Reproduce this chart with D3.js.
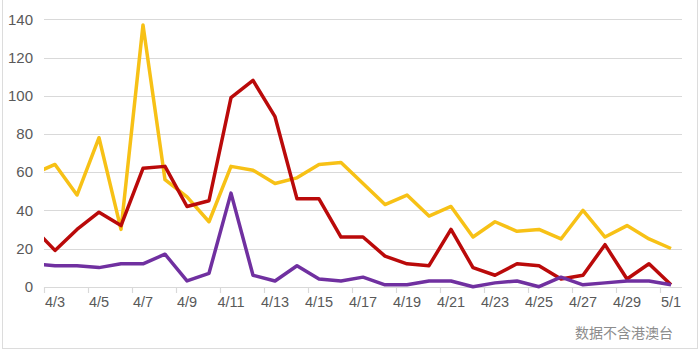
<!DOCTYPE html>
<html>
<head>
<meta charset="utf-8">
<script src="https://cdn.jsdelivr.net/npm/d3@7"></script>
<style>
  html, body { margin: 0; padding: 0; background: #fff; }
  svg { display: block; }
</style>
</head>
<body>
<svg id="chart" width="700" height="350"></svg>
<script>
// Daily counts, 4/2 through 5/1
const dates = ["4/2","4/3","4/4","4/5","4/6","4/7","4/8","4/9","4/10","4/11","4/12","4/13","4/14","4/15","4/16",
               "4/17","4/18","4/19","4/20","4/21","4/22","4/23","4/24","4/25","4/26","4/27","4/28","4/29","4/30","5/1"];
const redSeries = [31,19,30,39,32,62,63,42,45,99,108,89,46,46,26,26,16,12,11,30,10,6,12,11,4,6,22,4,12,1];
const yellowSeries = [59,64,48,78,30,137,56,47,34,63,61,54,57,64,65,54,43,48,37,42,26,34,29,30,25,40,26,32,25,20];
const purpleSeries = [12,11,11,10,12,12,17,3,7,49,6,3,11,4,3,5,1,1,3,3,0,2,3,0,5,1,2,3,3,1];
const yTicks = [0,20,40,60,80,100,120,140];
const xLabels = ["4/3","4/5","4/7","4/9","4/11","4/13","4/15","4/17","4/19","4/21","4/23","4/25","4/27","4/29","5/1"];
const note = "数据不含港澳台";

const svg = d3.select("#chart");
const W = 700, H = 350;
const plot = { left: 44, right: 682, top: 18, bottom: 286.7 };

// outer frame
svg.append("rect")
  .attr("x", 2.5).attr("y", -2).attr("width", 695).attr("height", 350.5)
  .attr("fill", "none").attr("stroke", "#dcdcdc").attr("stroke-width", 1);

// each day occupies one band; the window shows half of 4/2 through the end of 5/1
const x = d3.scaleLinear()
  .domain([0.5, dates.length - 0.5])
  .range([plot.left, plot.right]);
const y = d3.scaleLinear()
  .domain([0, 140])
  .range([plot.bottom, plot.top + 1.3]);

// gridlines
svg.append("g")
  .selectAll("line")
  .data(yTicks)
  .join("line")
  .attr("x1", plot.left).attr("x2", plot.right)
  .attr("y1", d => Math.round(y(d)) + 0.5).attr("y2", d => Math.round(y(d)) + 0.5)
  .attr("stroke", "#d9d9d9").attr("stroke-width", 1.2);

// y axis labels
const yAxis = d3.axisLeft(y).tickValues(yTicks).tickSize(0).tickPadding(0);
const gy = svg.append("g").attr("transform", "translate(33,0)").call(yAxis);
gy.select(".domain").remove();
gy.selectAll("text")
  .attr("fill", "#595959")
  .attr("font-family", "'Liberation Sans', Arial, sans-serif")
  .attr("font-size", 15);

// x axis: tick marks at the left edge of every labelled day, label centred on the day
const labelIdx = xLabels.map(l => dates.indexOf(l));
const gx = svg.append("g");
gx.selectAll("line.tick")
  .data(labelIdx)
  .join("line")
  .attr("class", "tick")
  .attr("x1", d => Math.round(x(d - 0.5)) + 0.5).attr("x2", d => Math.round(x(d - 0.5)) + 0.5)
  .attr("y1", Math.round(plot.bottom)).attr("y2", Math.round(plot.bottom) + 6)
  .attr("stroke", "#d9d9d9").attr("stroke-width", 1.2);
gx.selectAll("text")
  .data(xLabels)
  .join("text")
  .attr("x", d => x(dates.indexOf(d)))
  .attr("y", 307)
  .attr("text-anchor", "middle")
  .attr("fill", "#595959")
  .attr("font-family", "'Liberation Sans', Arial, sans-serif")
  .attr("font-size", 14.5)
  .text(d => d);

// series lines, clipped to the plot window
svg.append("clipPath").attr("id", "plotClip")
  .append("rect")
  .attr("x", plot.left).attr("y", 0)
  .attr("width", plot.right - plot.left).attr("height", H);

const line = d3.line()
  .x((d, i) => x(i))
  .y(d => y(d));

const series = [
  { values: yellowSeries, color: "#F7C116" },
  { values: redSeries, color: "#BA0A0A" },
  { values: purpleSeries, color: "#7030A0" }
];
const gl = svg.append("g").attr("clip-path", "url(#plotClip)");
gl.selectAll("path")
  .data(series)
  .join("path")
  .attr("d", d => line(d.values))
  .attr("fill", "none")
  .attr("stroke", d => d.color)
  .attr("stroke-width", 3.5)
  .attr("stroke-linejoin", "round")
  .attr("stroke-linecap", "butt");

// footnote
svg.append("text")
  .attr("x", 673).attr("y", 338)
  .attr("text-anchor", "end")
  .attr("fill", "#8c8c8c")
  .attr("font-family", "'Noto Sans CJK SC', sans-serif")
  .attr("font-size", 14)
  .text(note);
</script>
</body>
</html>
